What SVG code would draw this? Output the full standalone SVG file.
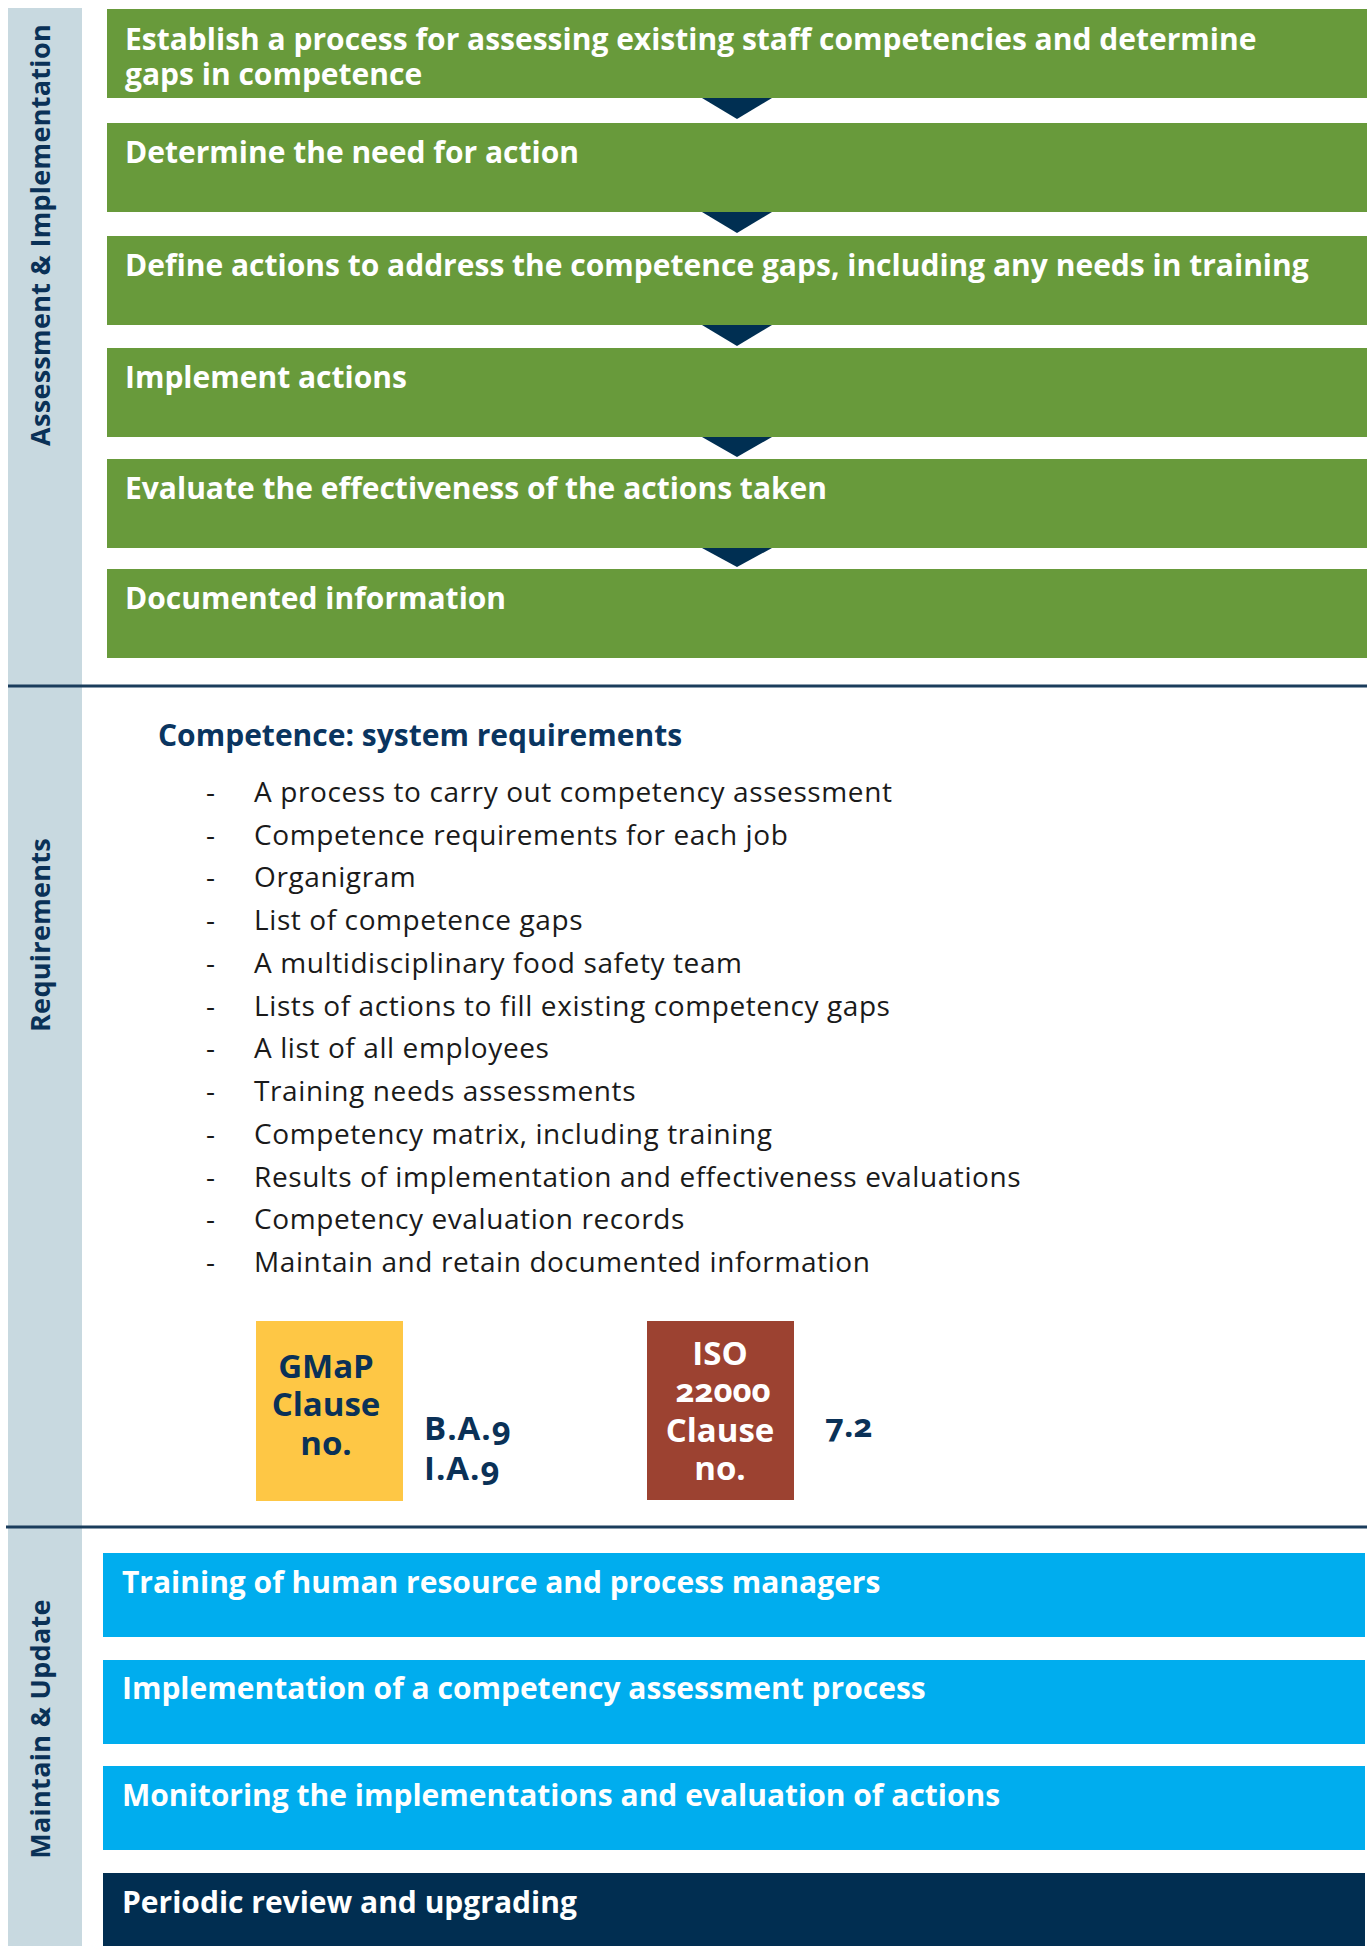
<svg xmlns="http://www.w3.org/2000/svg" width="1370" height="1946" viewBox="0 0 1370 1946">
<style>
.side{fill:#c8d9e0}
.slabel{font-family:"Open Sans","Noto Sans",sans-serif;font-weight:700;font-size:27px;fill:#0a3157;letter-spacing:0.3px}
.green{fill:#689a3b}
.blue{fill:#00adee}
.dark{fill:#012e51}
.btxt{font-family:"Open Sans","Noto Sans",sans-serif;font-weight:700;font-size:30px;fill:#ffffff}
.arrow{fill:#002f52}
.rule{stroke:#1b3d5c;stroke-width:3}
.head{font-family:"Open Sans","Noto Sans",sans-serif;font-weight:700;font-size:30px;fill:#0a3560}
.item{font-family:"Open Sans","Noto Sans",sans-serif;font-size:28px;letter-spacing:0.6px;fill:#1a1a1a}
.clabel{font-family:"Open Sans","Noto Sans",sans-serif;font-weight:700;font-size:33px;text-anchor:middle}
.cval{font-family:"Open Sans","Noto Sans",sans-serif;font-weight:700;font-size:33px;fill:#0a3157;letter-spacing:1px}
.onum{font-variant-numeric:oldstyle-nums;font-feature-settings:"onum" 1}
</style>
<rect x="0" y="0" width="1370" height="1946" fill="#ffffff"/>
<rect class="side" x="8" y="8" width="74" height="1938"/>
<line class="rule" x1="8" y1="686" x2="1367" y2="686"/>
<line class="rule" x1="6" y1="1527" x2="1367" y2="1527"/>
<text class="slabel" transform="translate(50,235) rotate(-90)" text-anchor="middle">Assessment &amp; Implementation</text>
<text class="slabel" transform="translate(50,935) rotate(-90)" text-anchor="middle">Requirements</text>
<text class="slabel" transform="translate(50,1729) rotate(-90)" text-anchor="middle">Maintain &amp; Update</text>

<g id="step1"><rect class="green" x="107" y="9" width="1260" height="89"/><text class="btxt" x="125" y="50">Establish a process for assessing existing staff competencies and determine</text><text class="btxt" x="125" y="85">gaps in competence</text></g>
<g id="step2"><rect class="green" x="107" y="123" width="1260" height="89"/><text class="btxt" x="125" y="163">Determine the need for action</text></g>
<g id="step3"><rect class="green" x="107" y="236" width="1260" height="89"/><text class="btxt" x="125" y="276">Define actions to address the competence gaps, including any needs in training</text></g>
<g id="step4"><rect class="green" x="107" y="348" width="1260" height="89"/><text class="btxt" x="125" y="388">Implement actions</text></g>
<g id="step5"><rect class="green" x="107" y="459" width="1260" height="89"/><text class="btxt" x="125" y="499">Evaluate the effectiveness of the actions taken</text></g>
<g id="step6"><rect class="green" x="107" y="569" width="1260" height="89"/><text class="btxt" x="125" y="609">Documented information</text></g>

<g id="connectors">
<polygon class="arrow" points="702,98 772,98 737,119"/>
<polygon class="arrow" points="702,212 772,212 737,233"/>
<polygon class="arrow" points="702,325 772,325 737,346"/>
<polygon class="arrow" points="702,437 772,437 737,457"/>
<polygon class="arrow" points="702,548 772,548 737,567"/>
</g>

<g id="requirements">
<text class="head" x="158" y="746">Competence: system requirements</text>
<g class="item">
<text x="206" y="802">-</text><text x="254" y="802">A process to carry out competency assessment</text>
<text x="206" y="845">-</text><text x="254" y="845">Competence requirements for each job</text>
<text x="206" y="887">-</text><text x="254" y="887">Organigram</text>
<text x="206" y="930">-</text><text x="254" y="930">List of competence gaps</text>
<text x="206" y="973">-</text><text x="254" y="973">A multidisciplinary food safety team</text>
<text x="206" y="1016">-</text><text x="254" y="1016">Lists of actions to fill existing competency gaps</text>
<text x="206" y="1058">-</text><text x="254" y="1058">A list of all employees</text>
<text x="206" y="1101">-</text><text x="254" y="1101">Training needs assessments</text>
<text x="206" y="1144">-</text><text x="254" y="1144">Competency matrix, including training</text>
<text x="206" y="1187">-</text><text x="254" y="1187">Results of implementation and effectiveness evaluations</text>
<text x="206" y="1229">-</text><text x="254" y="1229">Competency evaluation records</text>
<text x="206" y="1272">-</text><text x="254" y="1272">Maintain and retain documented information</text>
</g>
</g>

<g id="gmap">
<rect x="256" y="1321" width="147" height="180" fill="#fec745"/>
<text class="clabel" fill="#0a3157" x="326" y="1378">GMaP</text>
<text class="clabel" fill="#0a3157" x="326" y="1416">Clause</text>
<text class="clabel" fill="#0a3157" x="326" y="1455">no.</text>
<text class="cval onum" x="424" y="1440">B.A.9</text>
<text class="cval onum" x="424" y="1480">I.A.9</text>
</g>
<g id="iso">
<rect x="647" y="1321" width="147" height="179" fill="#9c4231"/>
<text class="clabel" fill="#ffffff" x="720" y="1365">ISO</text>
<text class="clabel onum" fill="#ffffff" x="723" y="1402">22000</text>
<text class="clabel" fill="#ffffff" x="720" y="1442">Clause</text>
<text class="clabel" fill="#ffffff" x="720" y="1480">no.</text>
<text class="cval onum" x="825" y="1437" style="letter-spacing:0">7.2</text>
</g>

<g id="maint1"><rect class="blue" x="103" y="1553" width="1262" height="84"/><text class="btxt" x="122" y="1593">Training of human resource and process managers</text></g>
<g id="maint2"><rect class="blue" x="103" y="1660" width="1262" height="84"/><text class="btxt" x="122" y="1699">Implementation of a competency assessment process</text></g>
<g id="maint3"><rect class="blue" x="103" y="1766" width="1262" height="84"/><text class="btxt" x="122" y="1806">Monitoring the implementations and evaluation of actions</text></g>
<g id="maint4"><rect class="dark" x="103" y="1873" width="1262" height="73"/><text class="btxt" x="122" y="1913">Periodic review and upgrading</text></g>
</svg>
